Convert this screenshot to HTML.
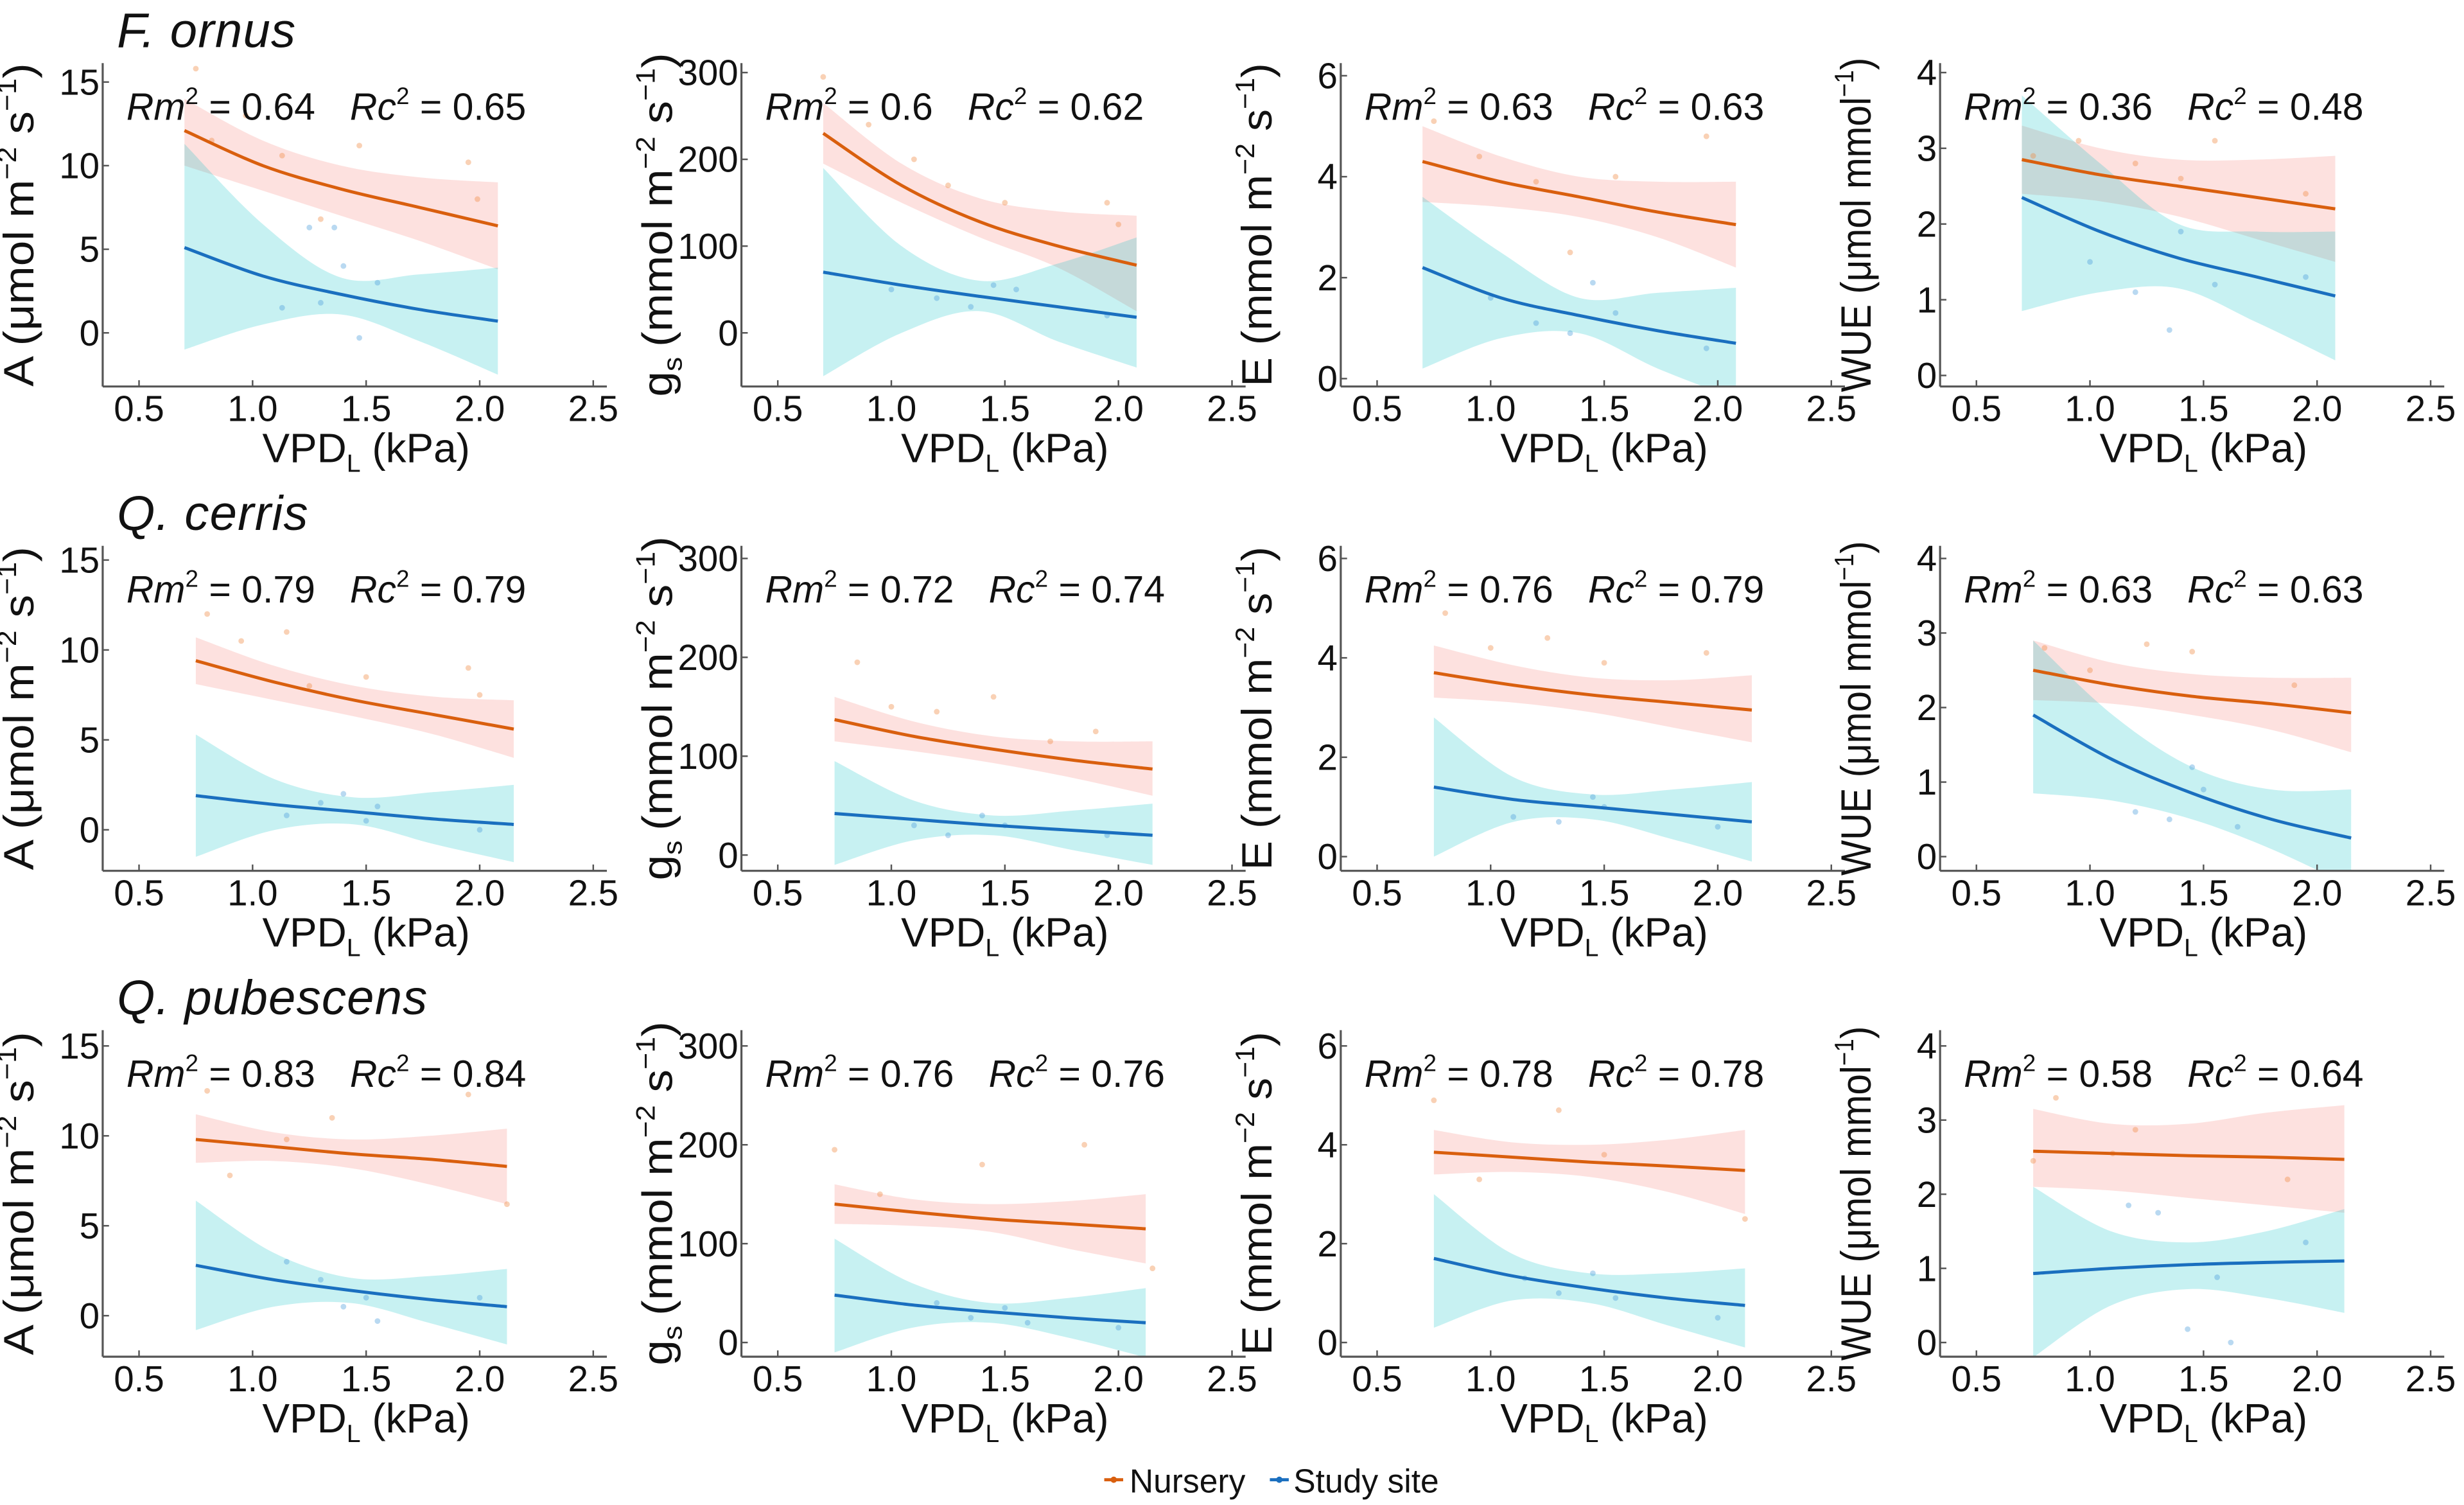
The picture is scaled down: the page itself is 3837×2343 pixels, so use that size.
<!DOCTYPE html>
<html><head><meta charset="utf-8"><style>
html,body{margin:0;padding:0;background:#fff;}
svg{display:block;font-family:"Liberation Sans",sans-serif;}
</style></head><body>
<svg id="fig" width="3837" height="2343" viewBox="0 0 1562 954" xmlns="http://www.w3.org/2000/svg">
<rect width="1562" height="954" fill="#fff"/>
<g id="content"></g>
<g>
<line x1="700" y1="938" x2="712" y2="938" stroke="#d95f0e" stroke-width="2"/>
<circle cx="706" cy="938" r="2" fill="#d95f0e"/>
<text x="716" y="946" font-size="21" fill="#111">Nursery</text>
<line x1="805" y1="938" x2="817" y2="938" stroke="#1a6fbf" stroke-width="2"/>
<circle cx="811" cy="938" r="2" fill="#1a6fbf"/>
<text x="820" y="946" font-size="21" fill="#111">Study site</text>
</g>
</svg>
<script>
// ----- data -----
const species = ["F. ornus", "Q. cerris", "Q. pubescens"];
const tickX = [0.5, 1.0, 1.5, 2.0, 2.5];
const tickLabelsX = ["0.5", "1.0", "1.5", "2.0", "2.5"];
const ticksA = [0, 5, 10, 15];
const ticksGs = [0, 100, 200, 300];
const ticksE = [0, 2, 4, 6];
const ticksWUE = [0, 1, 2, 3, 4];
const rm2 = [["0.64","0.6","0.63","0.36"],["0.79","0.72","0.76","0.63"],["0.83","0.76","0.78","0.58"]];
const rc2 = [["0.65","0.62","0.63","0.48"],["0.79","0.74","0.79","0.63"],["0.84","0.76","0.78","0.64"]];
const xRange = [[0.7,2.08],[0.75,2.15],[0.75,2.12]];
const nurFit = [
 [[12.1,10.0,8.6,7.5,6.4],[230,170,128,100,78],[4.3,3.9,3.6,3.3,3.05],[2.85,2.65,2.5,2.35,2.2]],
 [[9.4,8.2,7.2,6.4,5.6],[137,120,107,96,87],[3.7,3.45,3.25,3.1,2.95],[2.5,2.3,2.15,2.05,1.93]],
 [[9.8,9.4,9.0,8.7,8.3],[140,132,125,120,115],[3.85,3.75,3.65,3.57,3.48],[2.58,2.55,2.52,2.5,2.47]]];
const nurHi = [
 [[14,11.5,10,9.3,9],[265,195,155,140,135],[5.0,4.4,4.0,3.9,3.9],[3.3,3.0,2.85,2.85,2.9]],
 [[10.7,9.1,8.0,7.4,7.2],[160,135,120,115,115],[4.25,3.85,3.6,3.55,3.65],[2.9,2.6,2.45,2.4,2.4]],
 [[11.2,10.2,9.8,10.0,10.4],[160,145,140,143,150],[4.3,4.05,4.0,4.1,4.3],[3.15,2.95,2.95,3.1,3.2]]];
const nurLo = [
 [[10,8.5,7.0,5.5,3.8],[195,150,110,75,25],[3.5,3.4,3.2,2.8,2.2],[2.4,2.3,2.1,1.8,1.5]],
 [[8.1,7.2,6.3,5.3,4.0],[115,105,93,78,60],[3.2,3.1,2.9,2.6,2.3],[2.1,2.05,1.9,1.7,1.4]],
 [[8.5,8.6,8.2,7.3,6.2],[120,118,112,95,80],[3.4,3.45,3.35,3.05,2.6],[2.1,2.05,1.95,1.85,1.75]]];
const siteFit = [
 [[5.1,3.4,2.3,1.4,0.7],[70,55,42,30,18],[2.2,1.6,1.25,0.95,0.7],[2.35,1.9,1.55,1.3,1.05]],
 [[1.9,1.4,1.0,0.6,0.3],[42,36,30,25,20],[1.4,1.15,1.0,0.85,0.7],[1.9,1.3,0.85,0.5,0.25]],
 [[2.8,2.0,1.4,0.9,0.5],[48,38,31,25,20],[1.7,1.35,1.1,0.9,0.75],[0.93,1.0,1.05,1.08,1.1]]];
const siteHi = [
 [[11.3,6.5,3.3,3.5,3.9],[190,100,60,80,110],[3.6,2.5,1.6,1.7,1.8],[3.7,2.8,2.0,1.9,1.9]],
 [[5.3,2.8,1.8,2.1,2.5],[95,55,40,45,52],[2.8,1.6,1.25,1.35,1.5],[2.9,1.9,1.2,0.9,0.9]],
 [[6.4,3.5,2.1,2.2,2.6],[105,60,40,45,55],[3.0,1.8,1.4,1.4,1.5],[2.1,1.5,1.35,1.5,1.8]]];
const siteLo = [
 [[-1,0.5,1.1,-0.5,-2.5],[-50,0,25,-10,-40],[0.2,0.8,0.9,0.2,-0.4],[0.85,1.1,1.15,0.7,0.2]],
 [[-1.5,0,0.3,-0.8,-1.8],[-10,15,20,5,-10],[0,0.7,0.75,0.35,-0.1],[0.85,0.75,0.5,0.1,-0.4]],
 [[-0.8,0.5,0.7,-0.4,-1.6],[-10,15,20,5,-15],[0.3,0.85,0.8,0.35,-0.1],[-0.2,0.5,0.72,0.6,0.4]]];
const nurPts = [
 [[[0.75,15.8],[0.82,11.5],[0.97,13],[1.13,10.6],[1.3,6.8],[1.47,11.2],[1.95,10.2],[1.99,8]],[[0.7,295],[0.9,240],[1.1,200],[1.25,170],[1.5,150],[1.95,150],[2.0,125]],[[0.75,5.1],[0.95,4.4],[1.2,3.9],[1.35,2.5],[1.55,4.0],[1.95,4.8]],[[0.75,2.9],[0.95,3.1],[1.2,2.8],[1.4,2.6],[1.55,3.1],[1.95,2.4]]],
 [[[0.8,12],[0.95,10.5],[1.15,11],[1.25,8],[1.5,8.5],[1.95,9],[2.0,7.5]],[[0.85,195],[1.0,150],[1.2,145],[1.45,160],[1.7,115],[1.9,125]],[[0.8,4.9],[1.0,4.2],[1.25,4.4],[1.5,3.9],[1.95,4.1]],[[0.8,2.8],[1.0,2.5],[1.25,2.85],[1.45,2.75],[1.9,2.3]]],
 [[[0.8,12.5],[0.9,7.8],[1.15,9.8],[1.35,11],[1.95,12.3],[2.12,6.2]],[[0.75,195],[0.95,150],[1.4,180],[1.85,200],[2.15,75]],[[0.75,4.9],[0.95,3.3],[1.3,4.7],[1.5,3.8],[2.12,2.5]],[[0.75,2.45],[0.85,3.3],[1.1,2.55],[1.2,2.87],[1.87,2.2]]]];
const sitePts = [
 [[[1.13,1.5],[1.25,6.3],[1.3,1.8],[1.36,6.3],[1.4,4],[1.47,-0.3],[1.55,3]],[[1.0,50],[1.2,40],[1.35,30],[1.45,55],[1.55,50],[1.95,20]],[[1.0,1.6],[1.2,1.1],[1.35,0.9],[1.45,1.9],[1.55,1.3],[1.95,0.6]],[[1.0,1.5],[1.2,1.1],[1.35,0.6],[1.4,1.9],[1.55,1.2],[1.95,1.3]]],
 [[[1.15,0.8],[1.3,1.5],[1.4,2],[1.5,0.5],[1.55,1.3],[2.0,0]],[[1.1,30],[1.25,20],[1.4,40],[1.5,30],[1.95,20]],[[1.1,0.8],[1.3,0.7],[1.45,1.2],[1.5,1.0],[2.0,0.6]],[[1.2,0.6],[1.35,0.5],[1.45,1.2],[1.5,0.9],[1.65,0.4]]],
 [[[1.15,3],[1.3,2],[1.4,0.5],[1.5,1],[1.55,-0.3],[2.0,1]],[[1.2,40],[1.35,25],[1.5,35],[1.6,20],[2.0,15]],[[1.15,1.3],[1.3,1.0],[1.45,1.4],[1.55,0.9],[2.0,0.5]],[[1.17,1.85],[1.3,1.75],[1.43,0.18],[1.56,0.88],[1.62,0],[1.95,1.35]]]];
// ----- layout -----
const colX0 = [88, 493, 873, 1253];
const pxPerKPa = 144;
const rowAxisY = [245, 552, 860];
const rowTopY = [40, 346, 653];
const yZero = [[211,211,240,238],[526,542,543,543],[834,851,851,851]];
const yTop = [[52,46,48,46],[355,354,354,354],[663,663,663,663]];
const topVal = [15,300,6,4];
const yTitleLen = [205,218,205,212];
const yTickSets = [ticksA, ticksGs, ticksE, ticksWUE];
const NS="http://www.w3.org/2000/svg";
const root=document.getElementById('content');
function mk(tag,attrs,parent){const e=document.createElementNS(NS,tag);for(const k in attrs)e.setAttribute(k,attrs[k]);(parent||root).appendChild(e);return e;}
function smooth(pts){let d="M"+pts[0][0].toFixed(2)+","+pts[0][1].toFixed(2);
 for(let i=0;i<pts.length-1;i++){const p0=pts[Math.max(0,i-1)],p1=pts[i],p2=pts[i+1],p3=pts[Math.min(pts.length-1,i+2)];
  const c1=[p1[0]+(p2[0]-p0[0])/6,p1[1]+(p2[1]-p0[1])/6],c2=[p2[0]-(p3[0]-p1[0])/6,p2[1]-(p3[1]-p1[1])/6];
  d+="C"+c1.join(",")+" "+c2.join(",")+" "+p2.join(",");}return d;}
function contSmooth(pts){return smooth(pts).replace(/^M/,"L");}

species.forEach((sp,r)=>{
 const t=mk('text',{x:74,y:rowTopY[r]-10,'font-size':31,'font-style':'italic',fill:'#111','letter-spacing':'0.5'});
 
 
 t.textContent=sp;
});

for(let r=0;r<3;r++){for(let c=0;c<4;c++){
 const g=mk('g',{});
 
 
 const xs=v=>colX0[c]+(v-0.5)*pxPerKPa;
 const z=yZero[r][c], tp=yTop[r][c], tv=topVal[c];
 const ys=v=>z+(tp-z)*v/tv;
 const axY=rowAxisY[r], topY=rowTopY[r];
 const axL=xs(0.34), axR=xs(2.56);
 const cid='cp'+r+c;
 const cp=mk('clipPath',{id:cid},g); mk('rect',{x:axL,y:topY,width:axR-axL,height:axY-topY},cp);
 const [xa,xb]=xRange[r];
 const xv=[0,1,2,3,4].map(i=>xa+(xb-xa)*i/4);
 const band=(hi,lo,fill,name)=>{
  const up=xv.map((x,i)=>[xs(x),ys(hi[i])]);const dn=xv.map((x,i)=>[xs(x),ys(lo[i])]).reverse();
  const p=mk('path',{d:smooth(up)+contSmooth(dn)+"Z",fill:fill,'clip-path':'url(#'+cid+')'},g);
  
  
 };
 band(nurHi[r][c],nurLo[r][c],'rgba(248,118,109,0.22)','nursery-ci-band');
 band(siteHi[r][c],siteLo[r][c],'rgba(0,191,196,0.22)','site-ci-band');
 nurPts[r][c].forEach(p=>{const e=mk('circle',{cx:xs(p[0]),cy:ys(p[1]),r:1.8,fill:'rgba(240,140,70,0.4)'},g);
  
  });
 sitePts[r][c].forEach(p=>{const e=mk('circle',{cx:xs(p[0]),cy:ys(p[1]),r:1.8,fill:'rgba(80,160,220,0.4)'},g);
  
  });
 const ln=(fit,col,name)=>{const p=mk('path',{d:smooth(xv.map((x,i)=>[xs(x),ys(fit[i])])),fill:'none',stroke:col,'stroke-width':2},g);
  
  };
 ln(nurFit[r][c],'#d95f0e','nursery-fit-line');
 ln(siteFit[r][c],'#1a6fbf','site-fit-line');
 mk('line',{x1:axL,y1:topY,x2:axL,y2:axY,stroke:'#555','stroke-width':1.3},g);
 mk('line',{x1:axL,y1:axY,x2:axR,y2:axY,stroke:'#555','stroke-width':1.3},g);
 tickX.forEach((v,i)=>{mk('line',{x1:xs(v),y1:axY,x2:xs(v),y2:axY-4,stroke:'#555','stroke-width':1},g);
  const t=mk('text',{x:xs(v),y:axY+22,'font-size':23,'text-anchor':'middle',fill:'#111'},g);
  
  
  t.textContent=tickLabelsX[i];});
 yTickSets[c].forEach(v=>{mk('line',{x1:axL,y1:ys(v),x2:axL+4,y2:ys(v),stroke:'#555','stroke-width':1},g);
  const t=mk('text',{x:axL-2,y:ys(v)+8,'font-size':23,'text-anchor':'end',fill:'#111'},g);
  
  
  t.textContent=v;});
 const xt=mk('text',{x:xs(1.5),y:axY+48,'font-size':26,'text-anchor':'middle',fill:'#111'},g);
 
 
 xt.innerHTML='VPD<tspan font-size="16" dy="6">L</tspan><tspan dy="-6"> (kPa)</tspan>';
 const ycx=axL-44, ycy=(topY+axY)/2;
 const yt=mk('text',{x:ycx,y:ycy,'font-size':27,'text-anchor':'middle',fill:'#111',transform:'rotate(-90 '+ycx+' '+ycy+')',textLength:yTitleLen[c],lengthAdjust:'spacingAndGlyphs'},g);
 
 
 if(c===0) yt.innerHTML='A  (μmol m<tspan font-size="17" dy="-11">−2</tspan><tspan dy="11"> s</tspan><tspan font-size="17" dy="-11">−1</tspan><tspan dy="11">)</tspan>';
 else if(c===1) yt.innerHTML='g<tspan font-size="17" dy="6">s</tspan><tspan dy="-6" dx="6">(mmol m</tspan><tspan font-size="17" dy="-11">−2</tspan><tspan dy="11"> s</tspan><tspan font-size="17" dy="-11">−1</tspan><tspan dy="11">)</tspan>';
 else if(c===2) yt.innerHTML='E  (mmol m<tspan font-size="17" dy="-11">−2</tspan><tspan dy="11"> s</tspan><tspan font-size="17" dy="-11">−1</tspan><tspan dy="11">)</tspan>';
 else yt.innerHTML='WUE (μmol mmol<tspan font-size="17" dy="-11">−1</tspan><tspan dy="11">)</tspan>';
 const rt=mk('text',{x:colX0[c]-8,y:topY+36,'font-size':24,fill:'#111'},g);
 
 
 rt.innerHTML='<tspan font-style="italic">Rm</tspan><tspan font-size="15" dy="-10">2</tspan><tspan dy="10"> = '+rm2[r][c]+'</tspan><tspan font-style="italic" dx="22">Rc</tspan><tspan font-size="15" dy="-10">2</tspan><tspan dy="10"> = '+rc2[r][c]+'</tspan>';
}}
</script>
</body></html>
